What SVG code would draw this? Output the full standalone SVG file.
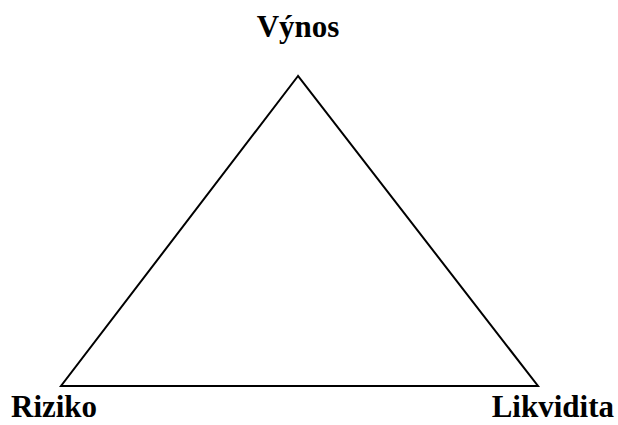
<svg xmlns="http://www.w3.org/2000/svg" width="618" height="425" viewBox="0 0 618 425">
<style>
.lbl{font-family:"Liberation Serif","Times New Roman",serif;font-weight:bold;font-size:31px;fill:#000}
</style>
<rect width="618" height="425" fill="#fff"/>
<g id="connectors">
<polygon points="298,76 61,386 538,386" fill="none" stroke="#000" stroke-width="2"/>
</g>
<g id="vynos"><text class="lbl" x="298" y="37" text-anchor="middle">Výnos</text></g>
<g id="riziko"><text class="lbl" x="11" y="417">Riziko</text></g>
<g id="likvidita"><text class="lbl" x="614" y="417" text-anchor="end">Likvidita</text></g>
</svg>
